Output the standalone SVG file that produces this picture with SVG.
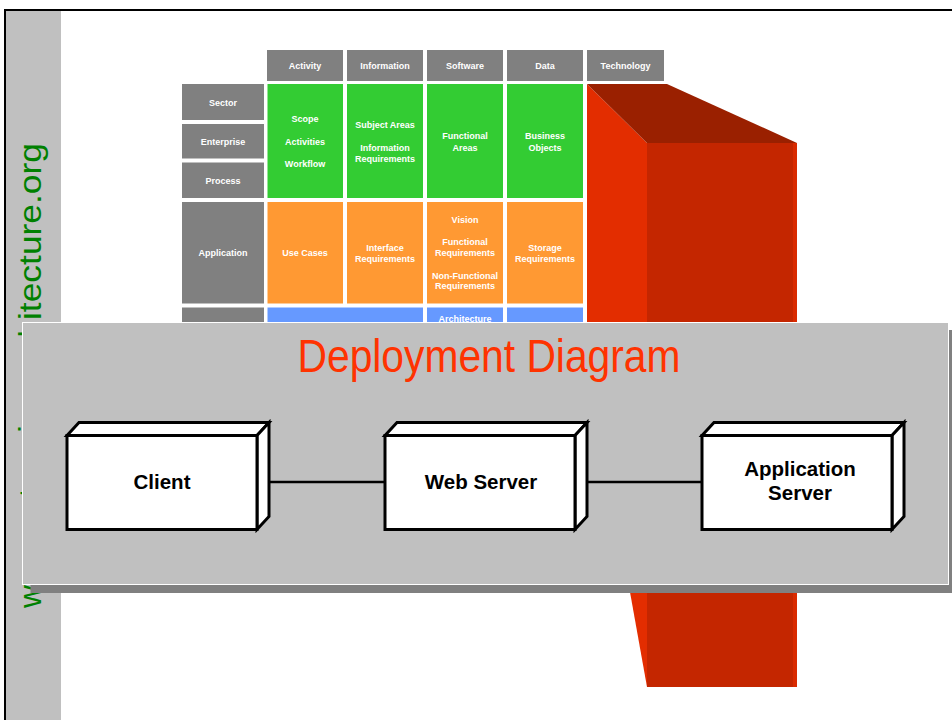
<svg xmlns="http://www.w3.org/2000/svg" width="952" height="720" viewBox="0 0 952 720">
<style>
.hdr{fill:#808080}
.gr{fill:#33CC33}
.or{fill:#FF9933}
.bl{fill:#6699FF}
.ct{font-family:"Liberation Sans",Arial,sans-serif;font-size:9px;font-weight:bold;fill:#ffffff;text-anchor:middle}
.nf{fill:#ffffff;stroke:#000000;stroke-width:3;stroke-linejoin:miter}
.nt{font-family:"Liberation Sans",Arial,sans-serif;font-size:20.5px;font-weight:bold;fill:#000000;text-anchor:middle}
.conn{stroke:#000000;stroke-width:2.5;fill:none}
</style>
<rect x="0" y="0" width="952" height="720" fill="#ffffff"/>
<!-- frame and side strip -->
<rect x="6" y="11" width="55" height="709" fill="#C0C0C0"/>
<rect x="5" y="10" width="1000" height="800" fill="none" stroke="#000000" stroke-width="2"/>
<text transform="translate(41,608) rotate(-90)" font-family="'Liberation Sans',Arial,sans-serif" font-size="31" fill="#008000"><tspan textLength="288" lengthAdjust="spacingAndGlyphs">www.enterprise-arch</tspan><tspan textLength="177" lengthAdjust="spacingAndGlyphs">itecture.org</tspan></text>

<!-- red 3D block -->
<g id="block">
<polygon points="587,84 647,143 647,687 587,352" fill="#E32D00"/>
<polygon points="587,84 667,84 797,143 647,143" fill="#9A2000"/>
<rect x="647" y="143" width="146" height="544" fill="#C42600"/>
<rect x="793" y="143" width="4" height="544" fill="#D92A00"/>
</g>

<!-- grid -->
<g id="grid">
<rect class="hdr" x="267" y="50" width="76" height="31"/>
<rect class="hdr" x="347" y="50" width="76" height="31"/>
<rect class="hdr" x="427" y="50" width="76" height="31"/>
<rect class="hdr" x="507" y="50" width="76" height="31"/>
<rect class="hdr" x="587" y="50" width="77" height="31"/>
<text class="ct" x="305" y="69">Activity</text>
<text class="ct" x="385" y="69">Information</text>
<text class="ct" x="465" y="69">Software</text>
<text class="ct" x="545" y="69">Data</text>
<text class="ct" x="625.5" y="69">Technology</text>

<rect class="hdr" x="182" y="84" width="82" height="36"/>
<rect class="hdr" x="182" y="124" width="82" height="34.5"/>
<rect class="hdr" x="182" y="162.5" width="82" height="35.5"/>
<rect class="hdr" x="182" y="202" width="82" height="101.5"/>
<rect class="hdr" x="182" y="307.5" width="82" height="20"/>
<text class="ct" x="223" y="106">Sector</text>
<text class="ct" x="223" y="145">Enterprise</text>
<text class="ct" x="223" y="184">Process</text>
<text class="ct" x="223" y="256">Application</text>

<rect class="gr" x="267.5" y="84" width="75.5" height="114"/>
<rect class="gr" x="347" y="84" width="76" height="114"/>
<rect class="gr" x="427" y="84" width="76" height="114"/>
<rect class="gr" x="507" y="84" width="76" height="114"/>
<text class="ct" x="305" y="121.5">Scope</text>
<text class="ct" x="305" y="145">Activities</text>
<text class="ct" x="305" y="166.5">Workflow</text>
<text class="ct" x="385" y="128">Subject Areas</text>
<text class="ct" x="385" y="151">Information</text>
<text class="ct" x="385" y="161.5">Requirements</text>
<text class="ct" x="465" y="139">Functional</text>
<text class="ct" x="465" y="151">Areas</text>
<text class="ct" x="545" y="139">Business</text>
<text class="ct" x="545" y="151">Objects</text>

<rect class="or" x="267.5" y="202" width="75.5" height="101.5"/>
<rect class="or" x="347" y="202" width="76" height="101.5"/>
<rect class="or" x="427" y="202" width="76" height="101.5"/>
<rect class="or" x="507" y="202" width="76" height="101.5"/>
<text class="ct" x="305" y="256">Use Cases</text>
<text class="ct" x="385" y="251">Interface</text>
<text class="ct" x="385" y="261.5">Requirements</text>
<text class="ct" x="465" y="222.5">Vision</text>
<text class="ct" x="465" y="245">Functional</text>
<text class="ct" x="465" y="255.5">Requirements</text>
<text class="ct" x="465" y="279">Non-Functional</text>
<text class="ct" x="465" y="289">Requirements</text>
<text class="ct" x="545" y="251">Storage</text>
<text class="ct" x="545" y="261.5">Requirements</text>

<rect class="bl" x="267.5" y="307.5" width="155.5" height="20"/>
<rect class="bl" x="427" y="307.5" width="76" height="20"/>
<rect class="bl" x="507" y="307.5" width="76" height="20"/>
<text class="ct" x="465" y="321.5">Architecture</text>
</g>

<!-- deployment panel -->
<g id="panel">
<rect x="30.5" y="330" width="926" height="263" fill="#808080"/>
<rect x="22.5" y="322.5" width="926" height="262" fill="#C0C0C0" stroke="#ffffff" stroke-width="1"/>
<text x="489" y="372" text-anchor="middle" font-family="'Liberation Sans',Arial,sans-serif" font-size="46" fill="#FF3300" textLength="383" lengthAdjust="spacingAndGlyphs">Deployment Diagram</text>
</g>

<g id="connectors">
<line class="conn" x1="269" y1="482" x2="385" y2="482"/>
<line class="conn" x1="587" y1="482" x2="702" y2="482"/>
</g>

<g id="client">
<polygon class="nf" points="67,435.5 79,422.5 269,422.5 257,435.5"/>
<polygon class="nf" points="257,435.5 269,422.5 269,516.5 257,529.5"/>
<rect class="nf" x="67" y="435.5" width="190" height="94"/>
<text class="nt" x="162" y="489">Client</text>
</g>

<g id="webserver">
<polygon class="nf" points="385,435.5 397,422.5 587,422.5 575,435.5"/>
<polygon class="nf" points="575,435.5 587,422.5 587,516.5 575,529.5"/>
<rect class="nf" x="385" y="435.5" width="190" height="94"/>
<text class="nt" x="481" y="489">Web Server</text>
</g>

<g id="appserver">
<polygon class="nf" points="702,435.5 714,422.5 904,422.5 892,435.5"/>
<polygon class="nf" points="892,435.5 904,422.5 904,516.5 892,529.5"/>
<rect class="nf" x="702" y="435.5" width="190" height="94"/>
<text class="nt" x="800" y="476">Application</text>
<text class="nt" x="800" y="500">Server</text>
</g>
</svg>
